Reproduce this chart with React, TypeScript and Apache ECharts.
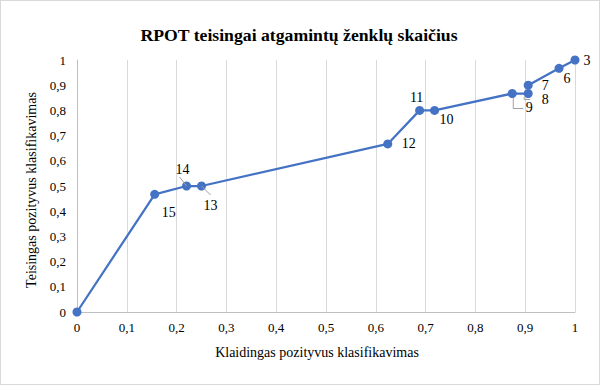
import React, { useEffect, useRef } from "react";
import * as echarts from "echarts";

const fpr = [0, 0.156, 0.22, 0.25, 0.624, 0.688, 0.718, 0.874, 0.906, 0.906, 0.968, 1];
const tpr = [0, 0.467, 0.5, 0.5, 0.667, 0.8, 0.8, 0.867, 0.867, 0.9, 0.967, 1];
const pointLabels = ["", "15", "14", "13", "12", "11", "10", "9", "8", "7", "6", "3"];

const labelOffsets: Record<string, [number, number]> = {
  "15": [14, 18],
  "14": [-4, -17],
  "13": [9, 19],
  "12": [21, 0],
  "11": [-3, -13],
  "10": [12, 9],
  "9": [17, 14],
  "8": [17, 6],
  "7": [17, 0],
  "6": [8, 10],
  "3": [12, 0],
};
// leader-line shapes (pixel offsets from the point)
const leaderShapes: Record<string, number[][]> = {
  "14": [[-7, -9], [0, 0]],
  "13": [[0, 0], [9, 9]],
  "9": [[1, 4], [1, 15], [11, 15]],
  "8": [[-4, 3], [-4, 6], [2, 6]],
};

const fmt = (v: number) => String(Math.round(v * 10) / 10).replace(".", ",");

export default function App() {
  const ref = useRef<HTMLDivElement>(null);
  useEffect(() => {
    if (!ref.current) return;
    const chart = echarts.init(ref.current, null, { renderer: "svg" });
    const font = "Liberation Serif";
    const data = fpr.map((x, i) => ({
      value: [x, tpr[i]],
      name: pointLabels[i],
      label: { show: pointLabels[i] !== "" },
    }));
    const leaderData = fpr
      .map((x, i) => [x, tpr[i], i])
      .filter((d) => leaderShapes[pointLabels[d[2]]]);
    chart.setOption({
      animation: false,
      textStyle: { fontFamily: font },
      title: {
        text: "RPOT teisingai atgamintų ženklų skaičius",
        left: 293,
        top: 20,
        textAlign: "center",
        textStyle: { fontFamily: font, fontSize: 17.7, fontWeight: "bold", color: "#000" },
      },
      grid: { left: 76, right: 24, top: 59, bottom: 72 },
      xAxis: {
        type: "value",
        min: 0,
        max: 1,
        interval: 0.1,
        name: "Klaidingas pozityvus klasifikavimas",
        nameLocation: "middle",
        nameGap: 33,
        nameTextStyle: { fontFamily: font, fontSize: 14, color: "#000", padding: [0, 18, 0, 0] },
        axisLine: { show: true, lineStyle: { color: "#bfbfbf" } },
        axisTick: { show: false },
        axisLabel: { formatter: fmt, fontFamily: font, fontSize: 13, color: "#000", margin: 9 },
        splitLine: { show: true, lineStyle: { color: "#d9d9d9" } },
      },
      yAxis: {
        type: "value",
        min: 0,
        max: 1,
        interval: 0.1,
        name: "Teisingas pozityvus klasifikavimas",
        nameLocation: "middle",
        nameGap: 36,
        nameTextStyle: { fontFamily: font, fontSize: 14, color: "#000", padding: [0, 8, 0, 0] },
        axisLine: { show: true, lineStyle: { color: "#bfbfbf" } },
        axisTick: { show: false },
        axisLabel: { formatter: fmt, fontFamily: font, fontSize: 13, color: "#000", margin: 11 },
        splitLine: { show: false },
      },
      series: [
        {
          type: "line",
          data,
          z: 2,
          symbol: "circle",
          symbolSize: 9,
          itemStyle: { color: "#4472C4" },
          lineStyle: { color: "#4472C4", width: 2.25 },
          label: {
            show: true,
            position: "inside",
            formatter: (p: any) => p.name,
            fontFamily: font,
            fontSize: 14,
            color: "#000",
          },
          labelLayout: (p: any) => {
            const name = pointLabels[p.dataIndex];
            const o = labelOffsets[name] || [0, 0];
            return { dx: o[0], dy: o[1] };
          },
        },
        {
          type: "custom",
          z: 3,
          silent: true,
          data: leaderData,
          renderItem: (params: any, api: any) => {
            const c = api.coord([api.value(0), api.value(1)]);
            const shape = leaderShapes[pointLabels[api.value(2)]];
            return {
              type: "polyline",
              shape: { points: shape.map((o) => [c[0] + o[0], c[1] + o[1]]) },
              style: { stroke: "#a0a0a0", lineWidth: 1, fill: "none" },
            };
          },
        },
      ],
    });
    return () => chart.dispose();
  }, []);
  return (
    <div
      style={{
        position: "absolute",
        left: 0,
        top: 0,
        width: 600,
        height: 385,
        boxSizing: "border-box",
        border: "1px solid #d9d9d9",
        background: "#fff",
      }}
    >
      <div ref={ref} style={{ width: 598, height: 383 }} />
    </div>
  );
}
